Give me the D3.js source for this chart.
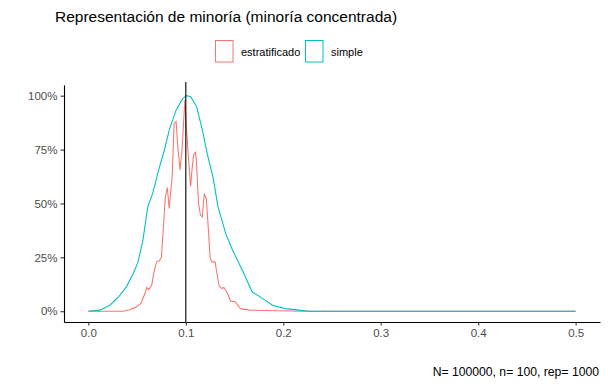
<!DOCTYPE html>
<html>
<head>
<meta charset="utf-8">
<script src="https://cdn.jsdelivr.net/npm/d3@7"></script>
<style>
  body { margin: 0; background: #fff; }
  svg { font-family: "Liberation Sans", Arial, sans-serif; }
</style>
</head>
<body>
<div id="container"></div>
<script>
var width = 608;
var height = 386;

// density curves (x = proportion, y = scaled density)
var simpleX = [0.000, 0.012, 0.022, 0.031, 0.039, 0.046, 0.051, 0.056, 0.061, 0.066, 0.073, 0.078, 0.083, 0.090, 0.097, 0.101, 0.105, 0.111, 0.117, 0.122, 0.128, 0.133, 0.141, 0.148, 0.158, 0.168, 0.175, 0.189, 0.202, 0.216, 0.226, 0.300, 0.400, 0.500];
var simpleY = [0.000, 0.005, 0.028, 0.067, 0.113, 0.175, 0.229, 0.330, 0.485, 0.547, 0.670, 0.748, 0.840, 0.933, 0.988, 1.000, 0.995, 0.950, 0.840, 0.730, 0.620, 0.485, 0.360, 0.283, 0.190, 0.090, 0.070, 0.028, 0.012, 0.005, 0.000, 0.000, 0.000, 0.000];

var estratX = [0.000, 0.036, 0.043, 0.049, 0.054, 0.058, 0.060, 0.062, 0.065, 0.067, 0.070, 0.073, 0.075, 0.077, 0.079, 0.081, 0.083, 0.084, 0.086, 0.088, 0.090, 0.092, 0.093, 0.094, 0.096, 0.098, 0.099, 0.100, 0.102, 0.104, 0.105, 0.106, 0.108, 0.110, 0.111, 0.113, 0.115, 0.117, 0.118, 0.119, 0.121, 0.123, 0.125, 0.127, 0.130, 0.132, 0.134, 0.137, 0.139, 0.143, 0.146, 0.151, 0.156, 0.165, 0.220, 0.500];
var estratY = [0.000, 0.000, 0.008, 0.020, 0.036, 0.082, 0.110, 0.100, 0.120, 0.175, 0.229, 0.234, 0.252, 0.390, 0.530, 0.574, 0.477, 0.530, 0.623, 0.870, 0.880, 0.750, 0.710, 0.655, 0.740, 0.900, 0.980, 0.900, 0.760, 0.630, 0.580, 0.640, 0.726, 0.737, 0.687, 0.500, 0.446, 0.438, 0.500, 0.543, 0.523, 0.390, 0.245, 0.229, 0.229, 0.175, 0.120, 0.105, 0.110, 0.082, 0.046, 0.043, 0.012, 0.005, 0.000, 0.000];

var xTicks = [0, 0.1, 0.2, 0.3, 0.4, 0.5];
var yTicks = [0, 0.25, 0.5, 0.75, 1];
var seriesNames = ["estratificado", "simple"];
var seriesColors = ["#F8766D", "#00BFC4"];
var refLine = 0.1;

var margin = {top: 84.9, right: 8, bottom: 64, left: 64};

var svg = d3.select("div#container").append("svg")
    .attr("width", width)
    .attr("height", height);

var x = d3.scaleLinear()
    .domain([-0.025, 0.525])
    .range([margin.left, width - margin.right]);
var y = d3.scaleLinear()
    .domain([-0.05, 1.05])
    .range([height - margin.bottom, margin.top]);

// axes
var xAxis = svg.append("g")
    .attr("transform", "translate(0," + (height - margin.bottom) + ")")
    .call(d3.axisBottom(x).tickValues(xTicks).tickFormat(d3.format(".1f"))
        .tickSize(3.5).tickSizeOuter(0).tickPadding(3));
var yAxis = svg.append("g")
    .attr("transform", "translate(" + margin.left + ",0)")
    .call(d3.axisLeft(y).tickValues(yTicks).tickFormat(d3.format(".0%"))
        .tickSize(3.5).tickSizeOuter(0).tickPadding(3));

[xAxis, yAxis].forEach(function(g) {
    g.select(".domain").attr("stroke", "#000").attr("stroke-width", 1.1);
    g.selectAll(".tick line").attr("stroke", "#333").attr("stroke-width", 1.1);
    g.selectAll(".tick text")
        .attr("fill", "#4D4D4D")
        .style("font-size", "11.5px")
        .style("font-family", "'Liberation Sans', Arial, sans-serif");
});

// curves
var line = d3.line()
    .x(function(d) { return x(d[0]); })
    .y(function(d) { return y(d[1]); });

var series = [
    d3.zip(estratX, estratY),
    d3.zip(simpleX, simpleY)
];

svg.selectAll("path.curve")
    .data(series)
    .enter()
    .append("path")
    .attr("class", "curve")
    .attr("d", line)
    .attr("fill", "none")
    .attr("stroke", function(d, i) { return seriesColors[i]; })
    .attr("stroke-width", 1.07);

// vertical reference line
svg.append("line")
    .attr("x1", x(refLine)).attr("x2", x(refLine))
    .attr("y1", margin.top - 3).attr("y2", height - margin.bottom)
    .attr("stroke", "#000")
    .attr("stroke-width", 1.1);

// title
svg.append("text")
    .attr("x", 55)
    .attr("y", 22)
    .style("font-size", "15.5px")
    .attr("fill", "#000")
    .text("Representación de minoría (minoría concentrada)");

// legend
var legendX = [215, 305];
var legend = svg.selectAll("g.legend")
    .data(seriesNames)
    .enter()
    .append("g")
    .attr("class", "legend")
    .attr("transform", function(d, i) { return "translate(" + legendX[i] + ",40)"; });

legend.append("rect")
    .attr("x", 0.5).attr("y", 0.5)
    .attr("width", 17.5).attr("height", 21.5)
    .attr("fill", "#fff")
    .attr("stroke", function(d, i) { return seriesColors[i]; })
    .attr("stroke-width", 1);

legend.append("text")
    .attr("x", 26)
    .attr("y", 16)
    .style("font-size", "11px")
    .attr("fill", "#000")
    .text(function(d) { return d; });

// caption
svg.append("text")
    .attr("x", 599)
    .attr("y", 376)
    .attr("text-anchor", "end")
    .style("font-size", "12.2px")
    .attr("fill", "#000")
    .text("N= 100000, n= 100, rep= 1000");
</script>
</body>
</html>
